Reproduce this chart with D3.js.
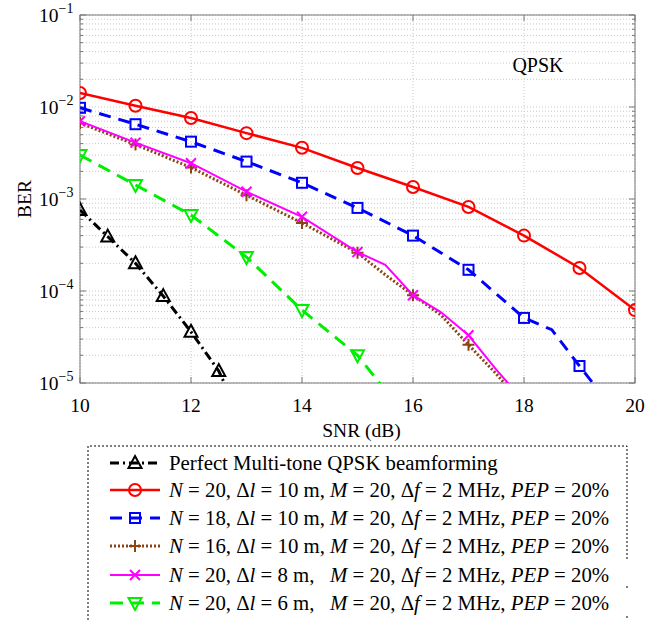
<!DOCTYPE html>
<meta charset="utf-8">
<html>
<head>
<style>
body { margin: 0; background: #fff; }
text { font-family: "Liberation Serif", "Times New Roman", serif; fill: #000; }
.grid line { stroke: #c8c8c8; stroke-width: 1; stroke-dasharray: 1,2; }
.frame { fill: none; stroke: #777; stroke-width: 1; }
</style>
</head>
<body>
<svg width="665" height="620"></svg>
<script src="https://cdn.jsdelivr.net/npm/d3@7"></script>
<script>

// ---- data ----
var snrPerfect = [10, 10.5, 11, 11.5, 12, 12.5, 12.8];
var berPerfect = [7.6e-4, 3.9e-4, 2.0e-4, 8.8e-5, 3.6e-5, 1.35e-5, 5.5e-6];

var snrN20 = [10, 11, 12, 13, 14, 15, 16, 17, 18, 19, 20];
var berN20 = [1.42e-2, 1.03e-2, 7.6e-3, 5.2e-3, 3.6e-3, 2.17e-3, 1.35e-3, 8.2e-4, 4.0e-4, 1.78e-4, 6.2e-5];

var snrN18 = [10, 11, 12, 13, 14, 15, 16, 17, 18, 18.5, 19, 19.5];
var berN18 = [9.8e-3, 6.5e-3, 4.2e-3, 2.55e-3, 1.5e-3, 8.0e-4, 4.0e-4, 1.7e-4, 5.1e-5, 3.8e-5, 1.53e-5, 6.3e-6];

var snrN16 = [10, 11, 12, 13, 14, 15, 15.5, 16, 16.5, 17, 17.5, 18];
var berN16 = [6.7e-3, 3.9e-3, 2.2e-3, 1.1e-3, 5.5e-4, 2.6e-4, 1.5e-4, 9.0e-5, 5.5e-5, 2.6e-5, 1.26e-5, 5.6e-6];

var snrDl8 = [10, 11, 12, 13, 14, 15, 15.5, 16, 16.5, 17, 17.5, 18];
var berDl8 = [7.0e-3, 4.1e-3, 2.45e-3, 1.2e-3, 6.4e-4, 2.65e-4, 1.92e-4, 9.0e-5, 5.9e-5, 3.3e-5, 1.4e-5, 6.3e-6];

var snrDl6 = [10, 11, 12, 13, 14, 15, 15.6];
var berDl6 = [3.0e-3, 1.42e-3, 6.7e-4, 2.34e-4, 6.2e-5, 2.0e-5, 7.0e-6];

var xTicks = [10, 12, 14, 16, 18, 20];
var yExps = [-1, -2, -3, -4, -5];

var legendLabels = [
  "Perfect Multi-tone QPSK beamforming",
  "<i>N</i> = 20, Δ<i>l</i> = 10 m, <i>M</i> = 20, Δ<i>f</i> = 2 MHz, <i>PEP</i> = 20%",
  "<i>N</i> = 18, Δ<i>l</i> = 10 m, <i>M</i> = 20, Δ<i>f</i> = 2 MHz, <i>PEP</i> = 20%",
  "<i>N</i> = 16, Δ<i>l</i> = 10 m, <i>M</i> = 20, Δ<i>f</i> = 2 MHz, <i>PEP</i> = 20%",
  "<i>N</i> = 20, Δ<i>l</i> = 8 m,   <i>M</i> = 20, Δ<i>f</i> = 2 MHz, <i>PEP</i> = 20%",
  "<i>N</i> = 20, Δ<i>l</i> = 6 m,   <i>M</i> = 20, Δ<i>f</i> = 2 MHz, <i>PEP</i> = 20%"
];

var series = [
  {snr: snrPerfect, ber: berPerfect, color: "#000", width: 3, dash: "9,4,2,4", marker: "tri", step: 0.5},
  {snr: snrN20, ber: berN20, color: "#ff0000", width: 2.5, dash: null, marker: "circle", step: 1},
  {snr: snrN18, ber: berN18, color: "#0000ff", width: 3, dash: "12,8", marker: "square", step: 1},
  {snr: snrN16, ber: berN16, color: "#8b4513", width: 3, dash: "2,2", marker: "plus", step: 1},
  {snr: snrDl8, ber: berDl8, color: "#ff00ff", width: 2, dash: null, marker: "cross", step: 1},
  {snr: snrDl6, ber: berDl6, color: "#00ee00", width: 3, dash: "13,8", marker: "tridown", step: 1}
];

// ---- layout ----
var svg = d3.select("svg");
var pL = 80, pR = 635, pT = 15, pB = 383;

var x = d3.scaleLinear().domain([10, 20]).range([pL, pR]);
var y = d3.scaleLog().domain([1e-5, 1e-1]).range([pB, pT]);

// grid
var minorY = [];
yExps.forEach(function(e) {
  if (e === -1) return;
  for (var k = 1; k < 10; k++) minorY.push(k * Math.pow(10, e));
});
minorY.push(1e-1);

var grid = svg.append("g").attr("class", "grid");
grid.selectAll(".gy").data(minorY).enter().append("line")
  .attr("x1", pL).attr("x2", pR)
  .attr("y1", function(d) { return y(d); }).attr("y2", function(d) { return y(d); });
grid.selectAll(".gx").data(xTicks).enter().append("line")
  .attr("x1", function(d) { return x(d); }).attr("x2", function(d) { return x(d); })
  .attr("y1", pT).attr("y2", pB);

// axes ticks (inside), MATLAB style
var tk = svg.append("g").attr("stroke", "#777").attr("stroke-width", 1);
xTicks.forEach(function(d) {
  tk.append("line").attr("x1", x(d)).attr("x2", x(d)).attr("y1", pB).attr("y2", pB - 6);
  tk.append("line").attr("x1", x(d)).attr("x2", x(d)).attr("y1", pT).attr("y2", pT + 6);
});
minorY.forEach(function(d) {
  var isMajor = Math.abs(Math.log10(d) - Math.round(Math.log10(d))) < 1e-9;
  var len = isMajor ? 6 : 3;
  tk.append("line").attr("x1", pL).attr("x2", pL + len).attr("y1", y(d)).attr("y2", y(d));
  tk.append("line").attr("x1", pR).attr("x2", pR - len).attr("y1", y(d)).attr("y2", y(d));
});

svg.append("rect").attr("class", "frame")
  .attr("x", pL).attr("y", pT).attr("width", pR - pL).attr("height", pB - pT);

// tick labels
svg.selectAll(".xl").data(xTicks).enter().append("text")
  .attr("x", function(d) { return x(d); }).attr("y", pB + 29)
  .attr("text-anchor", "middle").style("font-size", "19.5px")
  .text(function(d) { return d; });

yExps.forEach(function(e) {
  var t = svg.append("text").attr("x", pL - 41).attr("y", y(Math.pow(10, e)) + 7)
    .style("font-size", "19.5px");
  t.append("tspan").text("10");
  t.append("tspan").attr("dy", -9).style("font-size", "14px").text("\u2212" + (-e));
});

svg.append("text").attr("x", (pL + pR) / 2 + 4).attr("y", 437)
  .attr("text-anchor", "middle").style("font-size", "19.5px").text("SNR (dB)");
svg.append("text").attr("transform", "translate(31," + ((pT + pB) / 2) + ") rotate(-90)")
  .attr("text-anchor", "middle").style("font-size", "19.5px").text("BER");
svg.append("text").attr("x", 538).attr("y", 72)
  .attr("text-anchor", "middle").style("font-size", "20px").text("QPSK");

// curves
svg.append("clipPath").attr("id", "clip").append("rect")
  .attr("x", pL).attr("y", pT).attr("width", pR - pL).attr("height", pB - pT);

var plot = svg.append("g").attr("clip-path", "url(#clip)");
var line = d3.line().x(function(d) { return x(d[0]); }).y(function(d) { return y(d[1]); });

function drawMarker(g, type, cx, cy, color) {
  var m = g.append("g").attr("transform", "translate(" + cx + "," + cy + ")")
    .attr("stroke", color).attr("stroke-width", 2).attr("fill", "none");
  if (type === "circle") m.append("circle").attr("r", 6);
  if (type === "square") m.append("rect").attr("x", -5).attr("y", -5).attr("width", 10).attr("height", 10);
  if (type === "tri") m.append("path").attr("d", "M0,-7L6.5,5L-6.5,5Z");
  if (type === "tridown") m.append("path").attr("d", "M0,7L6.5,-5L-6.5,-5Z");
  if (type === "plus") m.append("path").attr("d", "M-6,0H6M0,-6V6");
  if (type === "cross") m.append("path").attr("d", "M-5,-5L5,5M-5,5L5,-5");
}

series.forEach(function(s) {
  var pts = s.snr.map(function(v, i) { return [v, s.ber[i]]; });
  plot.append("path").datum(pts).attr("d", line)
    .attr("fill", "none").attr("stroke", s.color).attr("stroke-width", s.width)
    .attr("stroke-dasharray", s.dash);
  pts.forEach(function(p) {
    var r = (p[0] - 10) / s.step;
    if (Math.abs(r - Math.round(r)) < 1e-6 && p[1] >= 1e-5) drawMarker(plot, s.marker, x(p[0]), y(p[1]), s.color);
  });
});

// legend
var lg = svg.append("g");
lg.append("path")
  .attr("d", "M88,640V446H627V560M627,586V590M627,616V620")
  .attr("fill", "none").attr("stroke", "#000").attr("stroke-width", 1).attr("stroke-dasharray", "2,2");

var rowY = [463, 490, 518, 546, 575, 603];
series.forEach(function(s, i) {
  var yy = rowY[i];
  lg.append("line").attr("x1", 110).attr("x2", 160).attr("y1", yy).attr("y2", yy)
    .attr("stroke", s.color).attr("stroke-width", s.width).attr("stroke-dasharray", s.dash);
  drawMarker(lg, s.marker, 135, yy, s.color);
  var t = lg.append("text").attr("x", 169).attr("y", yy + 7).style("font-size", "20.8px")
    .style("white-space", "pre");
  legendLabels[i].split(/(<i>.*?<\/i>)/).forEach(function(part) {
    if (!part) return;
    var it = part.indexOf("<i>") === 0;
    t.append("tspan").style("font-style", it ? "italic" : "normal")
      .text(it ? part.replace(/<\/?i>/g, "") : part);
  });
});

</script>
</body>
</html>
